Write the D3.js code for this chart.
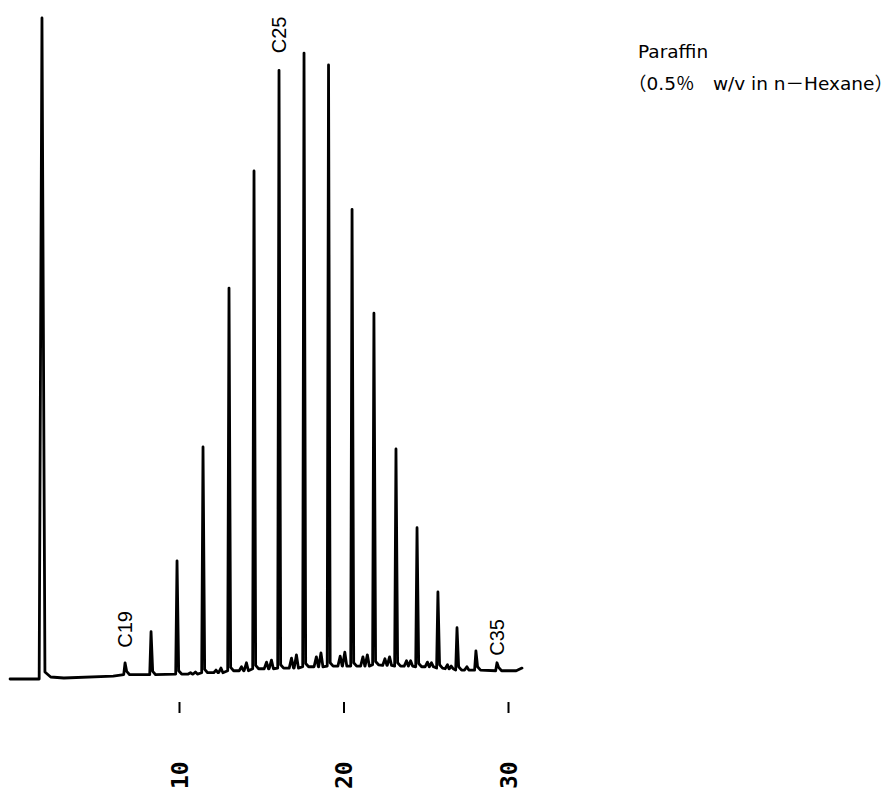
<!DOCTYPE html>
<html lang="en">
<head>
    <meta charset="UTF-8">
    <title>Paraffin chromatogram</title>
    <style>
        body {
            margin: 0;
            background: #fff;
        }
        .trace {
            fill: none;
            stroke: #000;
            stroke-width: 2.8px;
            stroke-linejoin: round;
            stroke-linecap: round;
        }
        .peak-label {
            font-family: "Liberation Sans", Arial, sans-serif;
            font-size: 20px;
        }
        .tick-label {
            font-family: "DejaVu Sans Mono", monospace;
            font-size: 23px;
            font-weight: bold;
        }
        .note {
            font-family: "DejaVu Sans", "Noto Sans CJK JP", sans-serif;
            font-size: 18.5px;
        }
    </style>
    <script src="https://d3js.org/d3.v7.min.js"></script>
</head>
<body>
    <svg id="graph" width="896" height="792"></svg>
    <script>
        // retention time in minutes, detector signal in % of solvent peak
        let solventTime = 1.67,
            solventHeight = 100;

        let alkaneLabels = ["C19", "C20", "C21", "C22", "C23", "C24", "C25", "C26", "C27",
                            "C28", "C29", "C30", "C31", "C32", "C33", "C34", "C35"];
        let alkaneTimes = [6.72, 8.30, 9.88, 11.46, 13.04, 14.56, 16.08, 17.60, 19.09,
                           20.52, 21.85, 23.19, 24.47, 25.74, 26.90, 28.05, 29.33];
        let alkaneHeights = [2.6, 7.3, 18.0, 35.2, 59.2, 76.9, 92.1, 94.7, 92.9,
                             71.1, 55.4, 34.9, 23.0, 13.3, 7.9, 4.4, 2.6];
        let alkaneBase = [0.8, 0.8, 0.9, 1.1, 1.4, 1.7, 1.8, 2.0, 2.1,
                          2.1, 2.3, 2.1, 2.0, 1.8, 1.5, 1.5, 1.4];

        // small branched peaks between the n-alkanes
        let minorTimes = [10.70, 11.00, 12.25, 12.55, 13.80, 14.10, 15.32, 15.62, 16.84, 17.14,
                          18.35, 18.63, 19.80, 20.08, 21.18, 21.45, 22.52, 22.80, 23.83, 24.08,
                          25.10, 25.35, 26.32, 26.55, 27.50];
        let minorHeights = [1.1, 1.2, 1.5, 1.8, 2.0, 2.6, 2.7, 3.0, 3.3, 3.8,
                            3.5, 4.1, 3.6, 4.2, 3.5, 3.8, 3.2, 3.5, 2.9, 2.9,
                            2.7, 2.6, 2.3, 2.1, 2.0];
        let minorBase = [0.9, 0.9, 1.1, 1.1, 1.4, 1.4, 1.7, 1.7, 1.8, 1.8,
                         2.0, 2.0, 2.1, 2.1, 2.1, 2.1, 2.2, 2.2, 2.1, 2.1,
                         2.0, 2.0, 1.7, 1.7, 1.5];

        // baseline where no peaks elute
        let baseTimes = [-0.27, 1.50, 1.85, 2.20, 3.00, 6.00, 29.70, 30.50, 30.85];
        let baseValues = [0.15, 0.15, 1.2, 0.45, 0.3, 0.6, 1.4, 1.4, 1.8];

        let tickValues = [10, 20, 30];
        let labelled = ["C19", "C25", "C35"];

        let noteLines = ["Paraffin", "（0.5％　w/v in n－Hexane）"];

        let svg = d3.select("#graph");

        let x = d3.scaleLinear().domain([0, 30]).range([14.5, 508]);
        let y = d3.scaleLinear().domain([0, 100]).range([680, 18]);

        // collect trace vertices
        let pts = [];
        baseTimes.forEach((t, i) => pts.push([t, baseValues[i]]));
        pts.push([solventTime, solventHeight]);
        alkaneTimes.forEach((t, i) => {
            let b = alkaneBase[i];
            pts.push([t - 0.08, b]);
            pts.push([t, alkaneHeights[i]]);
            pts.push([t + 0.10, b + 0.5]);
            pts.push([t + 0.28, b]);
        });
        minorTimes.forEach((t, i) => {
            pts.push([t - 0.14, minorBase[i]]);
            pts.push([t, minorHeights[i]]);
            pts.push([t + 0.12, minorBase[i]]);
        });
        pts.sort((a, b) => a[0] - b[0]);

        let line = d3.line()
            .x(d => x(d[0]))
            .y(d => y(d[1]));

        svg.append("path")
            .attr("class", "trace")
            .attr("d", line(pts));

        // peak labels, rotated
        let labelGap = {C19: 15, C25: 17, C35: 7};
        labelled.forEach(name => {
            let i = alkaneLabels.indexOf(name);
            let px = x(alkaneTimes[i]),
                py = y(alkaneHeights[i]) - labelGap[name];
            svg.append("text")
                .attr("class", "peak-label")
                .attr("transform", "translate(" + px + "," + py + ") rotate(-90)")
                .attr("dy", "0.36em")
                .style("text-anchor", "start")
                .text(name);
        });

        // time axis: ticks only, no domain line
        let xAxis = svg.append("g")
            .attr("transform", "translate(0,702)")
            .call(d3.axisBottom(x).tickValues(tickValues).tickSize(11).tickFormat(d => d));

        xAxis.select(".domain").remove();
        xAxis.selectAll(".tick line")
            .attr("stroke", "#000")
            .attr("stroke-width", 2);
        xAxis.selectAll(".tick text")
            .attr("class", "tick-label")
            .attr("fill", "#000")
            .attr("x", 0)
            .attr("y", 0)
            .attr("dy", "0.36em")
            .attr("transform", "translate(0,87) rotate(-90)")
            .style("text-anchor", "start");

        svg.append("g")
            .selectAll("text")
            .data(noteLines)
            .enter()
            .append("text")
            .attr("class", "note")
            .attr("x", (d, i) => i === 0 ? 638 : 628)
            .attr("y", (d, i) => 58 + i * 32)
            .text(d => d);
    </script>
</body>
</html>
